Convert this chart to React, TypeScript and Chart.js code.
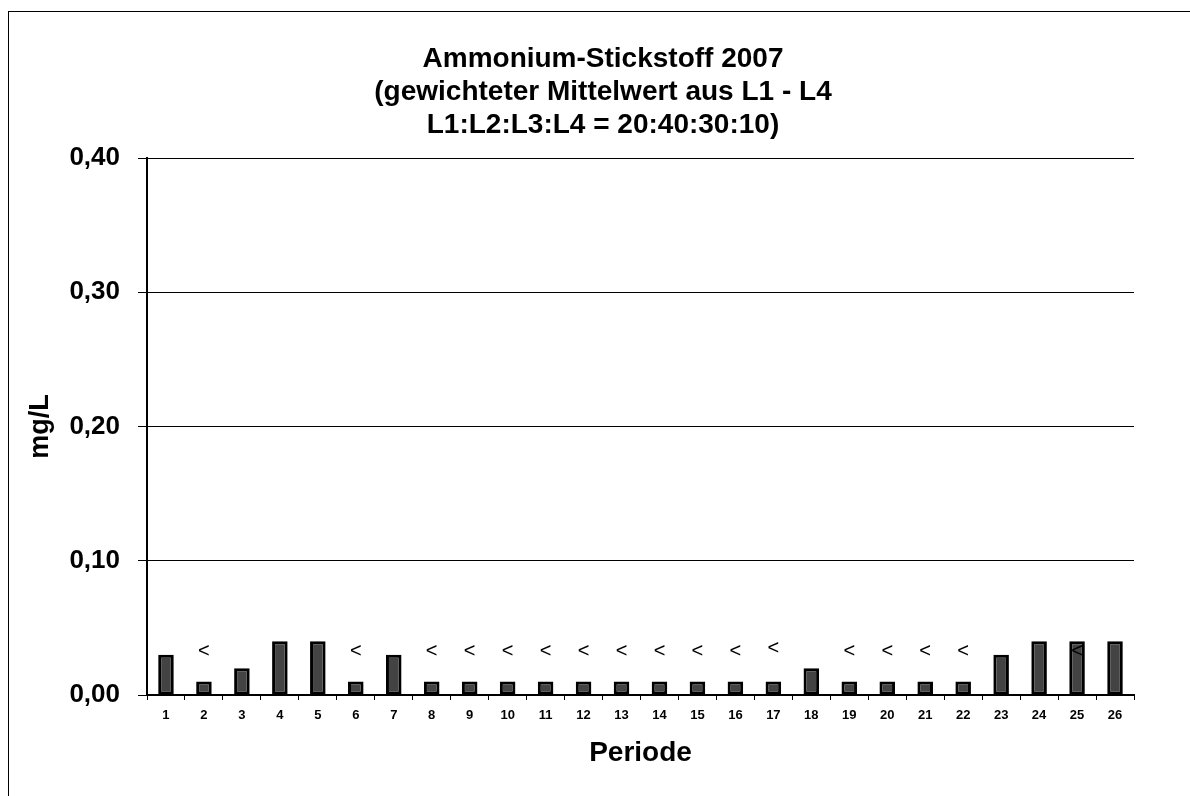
import React, { useEffect, useRef } from "react";
import { Chart, registerables } from "chart.js";

Chart.register(...registerables);

const FONT = '"Liberation Sans", Arial, sans-serif';

const titleLines = [
  "Ammonium-Stickstoff 2007",
  "(gewichteter Mittelwert aus L1 - L4",
  "L1:L2:L3:L4 = 20:40:30:10)",
];

const categories = [
  "1", "2", "3", "4", "5", "6", "7", "8", "9", "10", "11", "12", "13",
  "14", "15", "16", "17", "18", "19", "20", "21", "22", "23", "24", "25", "26",
];

const nh4Values = [
  0.03, 0.01, 0.02, 0.04, 0.04, 0.01, 0.03, 0.01, 0.01, 0.01, 0.01, 0.01, 0.01,
  0.01, 0.01, 0.01, 0.01, 0.02, 0.01, 0.01, 0.01, 0.01, 0.03, 0.04, 0.04, 0.04,
];

// "<" (below detection limit) markers, given as the value level where the sign sits (null = none)
const lessThanLevel: (number | null)[] = [
  null, 0.0325, null, null, null, 0.0325, null, 0.0325, 0.0325, 0.0325, 0.0325, 0.0325, 0.0325,
  0.0325, 0.0325, 0.0325, 0.0345, null, 0.0325, 0.0325, 0.0325, 0.0325, null, null, 0.0325, null,
];

const yTickLabels = ["0,00", "0,10", "0,20", "0,30", "0,40"];
const yMin = 0;
const yMax = 0.4;
const yStep = 0.1;

const decorPlugin = {
  id: "decor",
  afterDatasetsDraw(chart: any) {
    const { ctx, scales } = chart;
    const xs = scales.x;
    const ys = scales.y;
    ctx.save();
    ctx.fillStyle = "#000";
    ctx.font = `20px ${FONT}`;
    ctx.textAlign = "center";
    ctx.textBaseline = "middle";
    lessThanLevel.forEach((lvl, i) => {
      if (lvl === null) return;
      ctx.fillText("<", xs.getPixelForValue(i), ys.getPixelForValue(lvl));
    });
    ctx.restore();
  },
  afterDraw(chart: any) {
    const { ctx, chartArea } = chart;
    ctx.save();
    // outer frame
    ctx.strokeStyle = "#000";
    ctx.lineWidth = 1;
    ctx.strokeRect(8.5, 11.5, 1200, 820);
    // title
    ctx.fillStyle = "#000";
    ctx.font = `bold 28px ${FONT}`;
    ctx.textAlign = "center";
    ctx.textBaseline = "alphabetic";
    const cx = chart.width / 2 + 8;
    titleLines.forEach((t, i) => {
      ctx.fillText(t, cx, chartArea.top - 91 + i * 33);
    });
    ctx.restore();
  },
};

export default function App() {
  const ref = useRef<HTMLCanvasElement>(null);

  useEffect(() => {
    document.body.style.margin = "0";
    const canvas = ref.current!;
    const chart = new Chart(canvas, {
      type: "bar",
      data: {
        labels: categories,
        datasets: [
          {
            label: "Ammonium-Stickstoff",
            data: nh4Values,
            backgroundColor: "#434343",
            borderColor: "#000000",
            borderWidth: 3,
            borderSkipped: false,
            categoryPercentage: 1,
            barPercentage: 0.41,
          },
        ],
      },
      options: {
        responsive: false,
        animation: false,
        devicePixelRatio: 1,
        layout: { padding: { left: 10, right: 56, top: 158, bottom: 0 } },
        plugins: {
          legend: { display: false },
          title: { display: false },
          tooltip: { enabled: false },
        },
        scales: {
          x: {
            offset: true,
            grid: {
              display: true,
              offset: true,
              drawOnChartArea: false,
              drawTicks: true,
              tickLength: 5,
              color: "#000",
              lineWidth: 1,
            },
            border: { display: true, color: "#000", width: 2 },
            ticks: {
              color: "#000",
              font: { family: FONT, size: 13, weight: "bold" },
              padding: 8,
              maxRotation: 0,
              autoSkip: false,
            },
            title: {
              display: true,
              text: "Periode",
              color: "#000",
              font: { family: FONT, size: 28, weight: "bold" },
              padding: { top: 0, bottom: 26 },
            },
            afterFit: (s: any) => {
              s.height = 101;
            },
          },
          y: {
            min: yMin,
            max: yMax,
            grid: {
              display: true,
              drawTicks: true,
              tickLength: 9,
              color: "#000",
              lineWidth: 1,
            },
            border: { display: true, color: "#000", width: 2 },
            ticks: {
              stepSize: yStep,
              color: "#000",
              font: { family: FONT, size: 26, weight: "bold" },
              padding: 18,
              callback: (_v: any, i: number) => yTickLabels[i],
            },
            title: {
              display: true,
              text: "mg/L",
              color: "#000",
              font: { family: FONT, size: 27, weight: "bold" },
              padding: { top: 14, bottom: 0 },
            },
            afterFit: (s: any) => {
              s.width = 137;
            },
          },
        },
      },
      plugins: [decorPlugin],
    });
    return () => chart.destroy();
  }, []);

  return (
    <div style={{ width: 1190, height: 796 }}>
      <canvas ref={ref} width={1190} height={796} style={{ display: "block" }} />
    </div>
  );
}
